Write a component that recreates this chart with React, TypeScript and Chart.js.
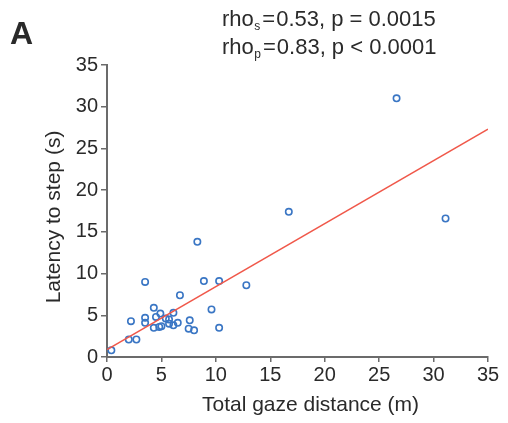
import React, { useEffect, useRef } from "react";
import { Chart, registerables } from "chart.js";

Chart.register(...registerables);

// Total gaze distance (m)
const gazeDistance = [0.4, 2.0, 2.7, 2.2, 3.5, 3.5, 3.5, 4.3, 4.5, 4.9, 4.3, 4.8, 5.0, 5.4, 5.7, 5.7, 6.1, 6.1, 6.5, 6.7, 7.6, 7.5, 8.0, 8.9, 9.6, 10.3, 10.3, 12.8, 8.3, 16.7, 26.6, 31.1];
// Latency to step (s)
const latency = [0.8, 2.1, 2.1, 4.3, 9.0, 4.7, 4.1, 5.9, 4.8, 5.2, 3.5, 3.6, 3.7, 4.6, 4.5, 4.0, 3.8, 5.3, 4.1, 7.4, 4.4, 3.4, 3.2, 9.1, 5.7, 9.1, 3.5, 8.6, 13.8, 17.4, 31.0, 16.6];
// Regression line end points
const fitX = [0, 35];
const fitY = [0.9, 27.3];
const xTicks = [0, 5, 10, 15, 20, 25, 30, 35];
const yTicks = [0, 5, 10, 15, 20, 25, 30, 35];
const xTitle = "Total gaze distance (m)";
const yTitle = "Latency to step (s)";
const panelLabel = "A";
const statLines = [
  { name: "rho", sub: "s", rest: "0.53, p = 0.0015" },
  { name: "rho", sub: "p", rest: "0.83, p < 0.0001" },
];

const FONT = "'Liberation Sans', Arial, Helvetica, sans-serif";
const TEXT = "#2a2a2a";
const AXIS = "#6b6b6b";

const textPlugin = {
  id: "textPlugin",
  afterDraw(chart: any) {
    const ctx = chart.ctx as CanvasRenderingContext2D;
    const area = chart.chartArea;
    ctx.save();
    ctx.fillStyle = TEXT;
    ctx.textBaseline = "alphabetic";
    // panel label
    ctx.font = `bold 32px ${FONT}`;
    ctx.textAlign = "left";
    ctx.fillText(panelLabel, 10, 44);
    // stat lines
    const baselines = [26, 54];
    statLines.forEach((l, i) => {
      let x = 222;
      const y = baselines[i];
      ctx.font = `22px ${FONT}`;
      ctx.fillText(l.name, x, y);
      x += ctx.measureText(l.name).width + 0.5;
      ctx.font = `12px ${FONT}`;
      ctx.fillText(l.sub, x, y + 4);
      x += ctx.measureText(l.sub).width + 2;
      ctx.font = `22px ${FONT}`;
      ctx.fillText("=", x, y);
      x += ctx.measureText("=").width + 1;
      ctx.fillText(l.rest, x, y);
    });
    // axis titles
    ctx.font = `21px ${FONT}`;
    ctx.textAlign = "center";
    ctx.fillText(xTitle, (area.left + area.right) / 2 + 13, 411);
    ctx.save();
    ctx.translate(60, (area.top + area.bottom) / 2 + 6);
    ctx.rotate(-Math.PI / 2);
    ctx.fillText(yTitle, 0, 0);
    ctx.restore();
    ctx.restore();
  },
};

export default function App() {
  const ref = useRef<HTMLCanvasElement | null>(null);
  useEffect(() => {
    if (!ref.current) return;
    const points = gazeDistance.map((x, i) => ({ x, y: latency[i] }));
    const fit = fitX.map((x, i) => ({ x, y: fitY[i] }));
    const tickCommon = {
      font: { size: 20, family: FONT },
      color: TEXT,
    };
    const chart = new Chart(ref.current, {
      type: "scatter",
      data: {
        datasets: [
          {
            type: "line",
            label: "fit",
            data: fit,
            borderColor: "#f0584a",
            borderWidth: 1.5,
            pointRadius: 0,
            fill: false,
            showLine: true,
          } as any,
          {
            type: "scatter",
            label: "subjects",
            data: points,
            pointRadius: 3.2,
            pointBorderWidth: 1.6,
            borderColor: "#3a76c4",
            backgroundColor: "rgba(255,255,255,0)",
          },
        ],
      },
      options: {
        responsive: false,
        maintainAspectRatio: false,
        animation: false,
        layout: { padding: { left: 0, right: 20, top: 65, bottom: 0 } },
        plugins: {
          legend: { display: false },
          tooltip: { enabled: false },
          title: { display: false },
        },
        scales: {
          x: {
            type: "linear",
            min: 0,
            max: 35,
            afterBuildTicks: (s: any) => {
              s.ticks = xTicks.map((v) => ({ value: v }));
            },
            afterFit: (s: any) => {
              s.height = 66;
            },
            ticks: { ...tickCommon, padding: 1, maxRotation: 0, autoSkip: false },
            grid: { drawOnChartArea: false, drawTicks: true, tickLength: 5, color: AXIS, lineWidth: 1.5 },
            border: { display: true, color: AXIS, width: 2 },
          },
          y: {
            type: "linear",
            min: 0,
            max: 35,
            afterBuildTicks: (s: any) => {
              s.ticks = yTicks.map((v) => ({ value: v }));
            },
            afterFit: (s: any) => {
              s.width = 107;
            },
            ticks: { ...tickCommon, padding: 3, autoSkip: false },
            grid: { drawOnChartArea: false, drawTicks: true, tickLength: 6, color: AXIS, lineWidth: 1.5 },
            border: { display: true, color: AXIS, width: 2 },
          },
        },
      },
      plugins: [textPlugin],
    });
    return () => chart.destroy();
  }, []);
  return (
    <div style={{ position: "absolute", left: 0, top: 0, width: 508, height: 423, background: "#fff" }}>
      <canvas ref={ref} width={508} height={423} style={{ width: 508, height: 423 }} />
    </div>
  );
}
